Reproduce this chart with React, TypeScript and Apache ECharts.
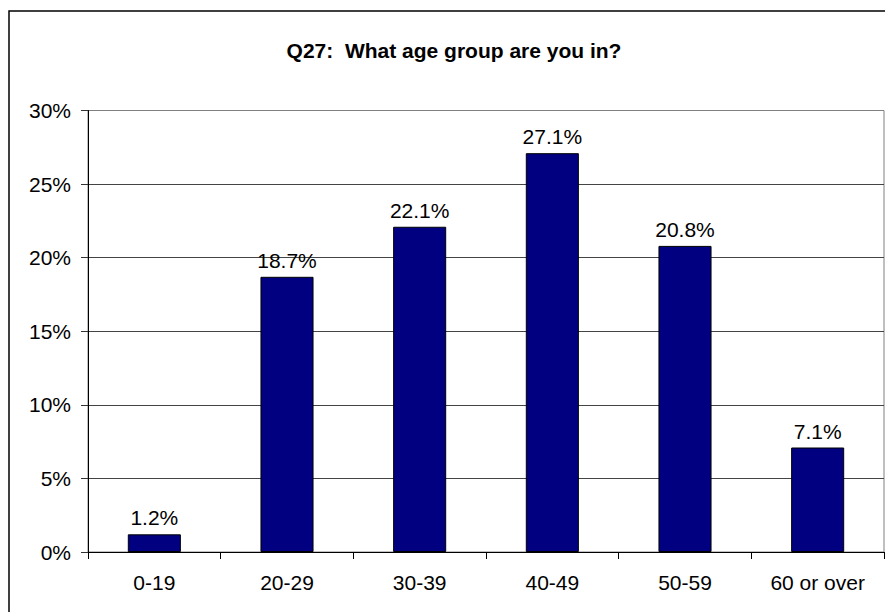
import React, { useEffect, useRef } from "react";
import * as echarts from "echarts";

const title = "Q27:  What age group are you in?";
const categories = ["0-19", "20-29", "30-39", "40-49", "50-59", "60 or over"];
const values = [1.2, 18.7, 22.1, 27.1, 20.8, 7.1];
const yTicks = { min: 0, max: 30, interval: 5 };

const FONT = "Liberation Sans, Arial, sans-serif";

export default function App() {
  const ref = useRef<HTMLDivElement>(null);
  useEffect(() => {
    if (!ref.current) return;
    const chart = echarts.init(ref.current, null, { renderer: "svg" });
    chart.setOption({
      animation: false,
      backgroundColor: "#ffffff",
      textStyle: { fontFamily: FONT },
      graphic: [
        {
          type: "rect",
          shape: { x: 9, y: 11, width: 1000, height: 800 },
          style: { fill: "none", stroke: "#000", lineWidth: 1.5 },
          z: 100,
        },
        {
          type: "text",
          x: 454,
          y: 50,
          style: {
            text: title,
            font: `bold 21px ${FONT}`,
            fill: "#000",
            align: "center",
            verticalAlign: "middle",
          },
        },
      ],
      grid: {
        left: 88,
        top: 110.5,
        right: 1,
        bottom: 60,
        show: true,
        borderColor: "#808080",
        borderWidth: 1,
        backgroundColor: "transparent",
      },
      xAxis: {
        type: "category",
        data: categories,
        axisLine: { show: true, lineStyle: { color: "#000", width: 1 } },
        axisTick: { show: true, length: 7, inside: false, lineStyle: { color: "#000" } },
        axisLabel: { color: "#000", fontSize: 21, fontFamily: FONT, margin: 20, interval: 0 },
      },
      yAxis: {
        type: "value",
        min: yTicks.min,
        max: yTicks.max,
        interval: yTicks.interval,
        axisLine: { show: true, lineStyle: { color: "#000", width: 1 } },
        axisTick: { show: true, length: 7, lineStyle: { color: "#333" } },
        axisLabel: { color: "#000", fontSize: 21, fontFamily: FONT, margin: 17, formatter: "{value}%" },
        splitLine: {
          show: true,
          lineStyle: {
            color: ["#000", "#444", "#444", "#444", "#444", "#444", "#808080"],
            width: 1,
          },
        },
      },
      series: [
        {
          type: "bar",
          data: values,
          barWidth: "40%",
          itemStyle: { color: "#000080", borderColor: "#000", borderWidth: 1 },
          label: {
            show: true,
            position: "top",
            distance: 6,
            color: "#000",
            fontSize: 21,
            fontFamily: FONT,
            formatter: (p: any) => p.value.toFixed(1) + "%",
          },
        },
      ],
    });
    return () => chart.dispose();
  }, []);
  return (
    <div
      ref={ref}
      style={{ position: "absolute", left: 0, top: 0, width: 885, height: 612 }}
    />
  );
}
